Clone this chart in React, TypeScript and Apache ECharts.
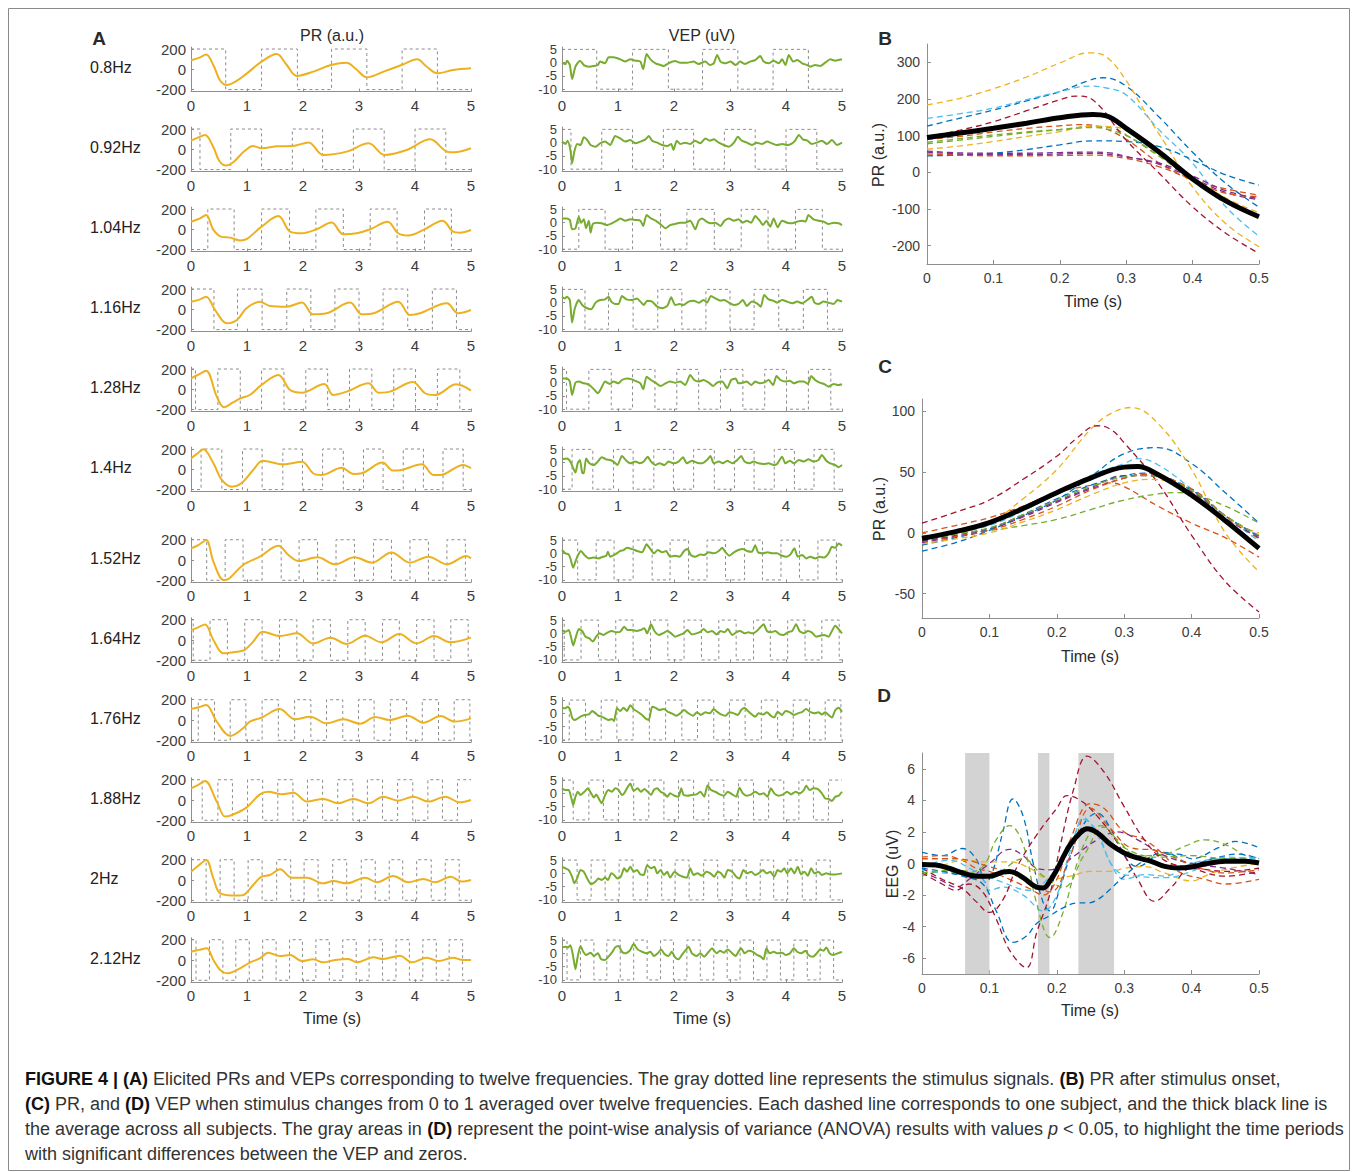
import React, { useEffect, useRef } from 'react';
import * as echarts from 'echarts';

const FONT = '"Liberation Sans", Arial, Helvetica, sans-serif';
const CAP_FONT = '"Liberation Sans", Arial, sans-serif';
const W = 1357;
const H = 1172;

// ---------- Panel A ----------
const FREQ_LABELS = ['0.8Hz', '0.92Hz', '1.04Hz', '1.16Hz', '1.28Hz', '1.4Hz', '1.52Hz', '1.64Hz', '1.76Hz', '1.88Hz', '2Hz', '2.12Hz'];
const STIM_START_HIGH = [1, 1, 0, 1, 1, 0, 1, 1, 0, 1, 1, 1];
const STIM_EDGES = [
  [0.62, 1.26, 1.9, 2.51, 3.14, 3.77, 4.4],
  [0.16, 0.71, 1.26, 1.81, 2.35, 2.9, 3.45, 4.0, 4.55],
  [0.3, 0.77, 1.26, 1.76, 2.23, 2.72, 3.2, 3.68, 4.17, 4.65],
  [0.41, 0.83, 1.27, 1.71, 2.14, 2.57, 3.0, 3.43, 3.87, 4.31, 4.74],
  [0.08, 0.48, 0.88, 1.26, 1.66, 2.05, 2.44, 2.83, 3.23, 3.62, 4.01, 4.4, 4.8],
  [0.18, 0.55, 0.92, 1.27, 1.64, 1.99, 2.35, 2.72, 3.08, 3.43, 3.79, 4.15, 4.5, 4.86],
  [0.28, 0.61, 0.93, 1.27, 1.61, 1.93, 2.26, 2.59, 2.92, 3.26, 3.58, 3.91, 4.24, 4.57, 4.9],
  [0.04, 0.34, 0.65, 0.96, 1.27, 1.58, 1.89, 2.18, 2.49, 2.8, 3.11, 3.42, 3.72, 4.03, 4.34, 4.64, 4.95],
  [0.13, 0.42, 0.7, 0.98, 1.27, 1.56, 1.85, 2.14, 2.42, 2.71, 2.99, 3.27, 3.56, 3.85, 4.13, 4.42, 4.7, 4.98],
  [0.2, 0.48, 0.74, 1.01, 1.28, 1.55, 1.82, 2.08, 2.35, 2.62, 2.89, 3.15, 3.42, 3.69, 3.96, 4.23, 4.49, 4.76],
  [0.27, 0.52, 0.77, 1.02, 1.27, 1.53, 1.78, 2.02, 2.27, 2.53, 2.78, 3.04, 3.29, 3.54, 3.78, 4.03, 4.29, 4.54, 4.79],
  [0.09, 0.33, 0.57, 0.8, 1.04, 1.28, 1.52, 1.76, 1.99, 2.23, 2.47, 2.71, 2.95, 3.18, 3.42, 3.66, 3.9, 4.14, 4.38, 4.61, 4.85],
];

const pr080 = [[0,90],[0.15,115],[0.27,145],[0.4,40],[0.52,-110],[0.64,-155],[0.8,-120],[1.0,-40],[1.26,75],[1.53,150],[1.7,50],[1.89,-66],[2.2,-20],[2.5,42],[2.78,65],[2.95,0],[3.14,-79],[3.45,-20],[3.76,42],[4.04,98],[4.2,30],[4.4,-40],[4.68,-7],[5,10]];
const pr092 = [[0,85],[0.12,115],[0.25,140],[0.4,20],[0.5,-110],[0.62,-160],[0.75,-130],[0.95,-20],[1.11,32],[1.26,10],[1.55,30],[1.81,32],[2.1,68],[2.36,-56],[2.78,-23],[3.17,59],[3.46,-56],[3.85,-7],[4.27,98],[4.55,-17],[4.7,-30],[5,10]];
const pr104 = [[0,75],[0.15,105],[0.27,140],[0.4,-5],[0.55,-75],[0.7,-82],[0.88,-110],[1.0,-95],[1.26,26],[1.56,130],[1.77,-23],[1.98,-39],[2.24,0],[2.51,66],[2.72,-49],[2.96,-39],[3.2,0],[3.51,75],[3.7,-39],[3.88,-62],[4.17,0],[4.49,85],[4.68,-23],[4.8,-33],[5,-7]];
const pr116 = [[0,75],[0.15,95],[0.27,125],[0.43,-7],[0.64,-138],[0.82,-105],[0.99,10],[1.23,75],[1.41,33],[1.71,26],[1.98,66],[2.18,-49],[2.42,-39],[2.84,66],[3.05,-49],[3.26,-39],[3.7,75],[3.91,-56],[4.09,-39],[4.57,59],[4.77,-39],[5,-7]];
const pr128 = [[0,108],[0.15,150],[0.27,184],[0.46,-72],[0.59,-177],[0.75,-130],[0.88,-89],[1.05,-56],[1.26,43],[1.56,141],[1.77,-7],[1.98,-33],[2.38,52],[2.54,-56],[2.78,-23],[3.17,59],[3.35,-33],[3.55,-23],[3.96,72],[4.18,-39],[4.36,-56],[4.74,49],[5,-13]];
const pr140 = [[0,108],[0.1,150],[0.22,197],[0.4,59],[0.55,-105],[0.73,-171],[0.9,-138],[1.11,-7],[1.28,85],[1.65,49],[1.98,75],[2.18,-39],[2.33,-56],[2.69,16],[2.9,-46],[3.05,-39],[3.42,66],[3.61,-13],[3.76,-7],[4.12,49],[4.33,-56],[4.45,-56],[4.86,43],[5,10]];
const pr152 = [[0,115],[0.14,150],[0.27,197],[0.4,-16],[0.58,-197],[0.67,-187],[0.93,-49],[1.23,33],[1.56,141],[1.74,49],[1.92,-10],[2.26,26],[2.57,-43],[2.92,26],[3.23,-26],[3.58,75],[3.91,-26],[4.24,33],[4.57,-43],[4.92,39],[5,16]];
const pr164 = [[0,98],[0.13,125],[0.25,154],[0.4,0],[0.58,-131],[0.82,-115],[0.96,-98],[1.11,-16],[1.28,82],[1.59,39],[1.89,66],[2.18,-33],[2.49,23],[2.78,-39],[3.11,43],[3.4,-23],[3.72,59],[4.03,-33],[4.34,39],[4.63,-23],[5,23]];
const pr176 = [[0,108],[0.14,125],[0.27,148],[0.46,-16],[0.7,-157],[0.93,-82],[1.05,-16],[1.26,23],[1.58,108],[1.86,7],[2.13,33],[2.42,-33],[2.72,7],[3.02,-36],[3.29,30],[3.55,0],[3.87,43],[4.15,-26],[4.46,39],[4.71,-16],[5,16]];
const pr188 = [[0,115],[0.13,150],[0.25,187],[0.46,-16],[0.61,-164],[0.73,-148],[0.99,-75],[1.23,56],[1.38,82],[1.62,56],[1.83,72],[2.07,-16],[2.36,10],[2.63,-33],[2.9,10],[3.17,-33],[3.43,33],[3.7,-7],[3.97,33],[4.24,-16],[4.54,33],[4.8,-23],[5,0]];
const pr200 = [[0,82],[0.13,140],[0.27,197],[0.4,16],[0.52,-131],[0.82,-154],[0.96,-141],[1.11,-49],[1.26,33],[1.41,49],[1.59,105],[1.8,23],[2.07,23],[2.36,-33],[2.54,-10],[2.78,-33],[3.11,23],[3.32,-23],[3.61,39],[3.88,-23],[4.15,10],[4.36,-23],[4.64,33],[4.83,-16],[5,0]];
const pr212 = [[0,82],[0.15,100],[0.28,115],[0.4,0],[0.52,-98],[0.64,-131],[0.82,-98],[1.05,-26],[1.23,16],[1.38,72],[1.59,39],[1.77,49],[1.98,-10],[2.18,7],[2.36,-23],[2.57,0],[2.81,10],[2.96,-23],[3.26,26],[3.43,10],[3.73,43],[3.94,-23],[4.21,23],[4.42,-10],[4.68,23],[4.86,0],[5,0]];

const vep080 = [[0,0],[0.06,-0.6],[0.09,0.75],[0.14,-0.9],[0.18,-6.2],[0.24,-1.5],[0.32,0.75],[0.39,-0.9],[0.48,-1.5],[0.57,-1.25],[0.64,-0.9],[0.68,0.4],[0.77,-0.25],[0.83,2],[0.92,2],[1.04,1.25],[1.13,0.4],[1.22,1.25],[1.31,0.75],[1.4,0.4],[1.45,-2.5],[1.51,3.25],[1.58,1.25],[1.67,-0.25],[1.76,-0.9],[1.82,-1.25],[1.9,-0.25],[2.02,0.6],[2.11,0],[2.23,0],[2.35,0.4],[2.44,-0.5],[2.56,0.4],[2.64,-0.9],[2.71,-0.25],[2.77,2.9],[2.83,0.4],[2.92,-0.25],[3.01,0.4],[3.1,-0.9],[3.18,0.4],[3.27,-0.5],[3.36,0.4],[3.45,1],[3.54,2.5],[3.6,0.4],[3.69,-0.25],[3.78,0.75],[3.87,-0.25],[3.93,1.25],[3.99,-0.9],[4.05,2.9],[4.13,0.4],[4.2,1],[4.29,-0.25],[4.38,-0.9],[4.43,-1.5],[4.52,-0.9],[4.61,-1.25],[4.7,0],[4.79,1.25],[4.88,0.75],[5,1.25]];
const vep092 = [[0,0.4],[0.06,-0.5],[0.1,0.75],[0.15,-2.75],[0.18,-7.75],[0.22,-3.4],[0.27,-0.5],[0.33,-0.9],[0.39,2],[0.45,1],[0.51,-0.9],[0.6,-1.5],[0.68,-0.25],[0.77,0.4],[0.86,-0.9],[0.95,2.5],[1.04,1.6],[1.13,0.4],[1.22,1],[1.31,-0.25],[1.4,0.4],[1.49,1.25],[1.55,2.5],[1.61,0.75],[1.7,0],[1.79,-0.9],[1.88,-1.25],[1.95,-0.5],[1.99,-2.75],[2.05,0.75],[2.11,-0.5],[2.2,0],[2.29,-0.5],[2.38,0.75],[2.47,-0.25],[2.56,1.6],[2.64,0.75],[2.71,1.25],[2.8,0],[2.89,-0.9],[2.98,-1.5],[3.07,0],[3.14,2.25],[3.21,0.75],[3.3,0],[3.39,-0.9],[3.48,0],[3.57,-0.5],[3.66,0.4],[3.75,-0.25],[3.84,-0.9],[3.93,-0.5],[4.02,-0.9],[4.11,-0.25],[4.17,1],[4.23,2.9],[4.3,1.25],[4.38,0.75],[4.46,-0.5],[4.55,0],[4.64,0.75],[4.73,-0.5],[4.82,1],[4.91,-0.9],[5,0]];
const vep104 = [[0,1.6],[0.09,1.6],[0.14,1],[0.18,-2.5],[0.24,-2.1],[0.3,2.25],[0.34,0],[0.39,1.25],[0.43,-2.1],[0.48,0.75],[0.51,-3.75],[0.55,-0.5],[0.63,0],[0.71,-0.25],[0.8,-0.9],[0.89,-0.25],[0.98,0.75],[1.04,1.6],[1.13,0.75],[1.22,1.25],[1.31,1],[1.4,0.75],[1.45,-1.25],[1.51,2.9],[1.59,1.6],[1.67,0.75],[1.74,-0.25],[1.85,-2.1],[1.93,-0.9],[2.02,-0.5],[2.11,0],[2.2,0],[2.29,0.75],[2.38,-2.5],[2.44,0.75],[2.5,1.6],[2.58,0.4],[2.66,-0.25],[2.74,0],[2.83,-1.25],[2.9,0.75],[2.98,1.6],[3.07,0.75],[3.15,1.25],[3.23,0],[3.3,0.75],[3.38,0],[3.45,2.5],[3.53,0.75],[3.59,-0.9],[3.65,0.75],[3.72,-1.5],[3.78,1.6],[3.85,-1.75],[3.93,0.75],[4.02,0],[4.11,-0.25],[4.2,0.4],[4.29,0.75],[4.35,0.4],[4.4,2.9],[4.49,1.25],[4.58,0.75],[4.67,0.4],[4.76,-0.5],[4.85,0],[4.94,-0.25],[5,-0.9]];
const vep116 = [[0,2.25],[0.05,1.6],[0.09,2.25],[0.14,1],[0.18,-7.5],[0.23,-2.1],[0.3,1],[0.36,-0.9],[0.45,-2.1],[0.52,-2.5],[0.6,0],[0.68,1],[0.77,1.25],[0.83,2.25],[0.88,0.4],[0.95,-0.5],[1.01,-0.5],[1.07,2.5],[1.15,1.25],[1.25,1],[1.34,1.6],[1.4,0.4],[1.46,-0.9],[1.52,0.75],[1.61,0.4],[1.7,-1.5],[1.79,-2.1],[1.88,-1.25],[1.95,2],[2.02,-0.9],[2.1,-0.5],[2.17,-0.9],[2.26,0.4],[2.35,0.75],[2.44,0],[2.53,1],[2.59,0],[2.66,2.5],[2.74,1.6],[2.83,0.75],[2.9,1],[2.98,0],[3.07,-0.9],[3.15,-0.5],[3.23,1],[3.3,-1.25],[3.39,0.4],[3.48,-0.25],[3.55,-1.5],[3.61,2.9],[3.69,1.25],[3.77,0.75],[3.84,0],[3.93,1],[4.02,0.4],[4.11,-0.25],[4.2,0.4],[4.29,-0.25],[4.38,1],[4.46,2.25],[4.51,0],[4.58,-0.5],[4.67,0.4],[4.76,0],[4.85,-0.5],[4.92,1],[5,0.4]];
const vep128 = [[0,1.6],[0.09,1.6],[0.14,0.4],[0.18,-4.6],[0.24,0],[0.3,0.4],[0.39,-0.25],[0.45,-0.5],[0.51,-1.25],[0.57,-2.5],[0.64,-4],[0.7,-2.1],[0.77,0.4],[0.85,-0.5],[0.92,0.4],[1.01,-0.25],[1.07,1],[1.16,1.6],[1.25,1.25],[1.34,0.4],[1.4,-0.25],[1.45,-2.5],[1.51,2.25],[1.59,1],[1.67,0],[1.76,-1.25],[1.85,-0.25],[1.93,0.4],[2.02,0],[2.11,0.4],[2.2,-0.9],[2.29,2.9],[2.36,1],[2.44,0.4],[2.53,1],[2.62,0],[2.7,-1.25],[2.77,0],[2.86,0.4],[2.95,-2.1],[3.02,1],[3.1,1.6],[3.15,-0.25],[3.23,0],[3.3,0.4],[3.38,-0.9],[3.45,0.4],[3.53,-0.25],[3.6,0],[3.69,1],[3.77,-0.9],[3.83,2.5],[3.9,1],[3.99,0.4],[4.07,0.75],[4.14,-0.25],[4.23,0.4],[4.32,0.4],[4.39,-0.5],[4.45,2.5],[4.52,1],[4.6,0],[4.68,-0.5],[4.76,-1.5],[4.85,-0.5],[4.94,-0.9],[5,-0.6]];
const vep140 = [[0,1.25],[0.09,1.6],[0.15,0.4],[0.2,-2.1],[0.24,-3.75],[0.28,-0.25],[0.32,1],[0.36,-3.75],[0.39,-4],[0.43,1.6],[0.49,-0.25],[0.57,-0.9],[0.64,0.4],[0.71,2],[0.79,1.25],[0.86,1],[0.92,0.4],[0.99,-0.9],[1.07,2.5],[1.15,0.75],[1.22,-0.25],[1.31,0.4],[1.39,-0.25],[1.46,0.4],[1.53,2.25],[1.59,0.4],[1.67,-0.9],[1.74,-0.25],[1.83,-0.9],[1.9,0.4],[1.99,-0.25],[2.08,0.4],[2.16,2],[2.23,-0.25],[2.32,0.75],[2.41,0],[2.5,-0.25],[2.59,1],[2.65,2.5],[2.71,-0.25],[2.8,0.4],[2.87,-0.25],[2.95,0.75],[3.04,-0.25],[3.13,1],[3.2,2.5],[3.26,0.4],[3.35,-0.25],[3.42,0.4],[3.51,-0.25],[3.6,-0.5],[3.69,-0.25],[3.78,-0.9],[3.84,-0.5],[3.93,2.25],[3.99,-0.25],[4.07,0.75],[4.14,-0.25],[4.23,1],[4.32,0.4],[4.4,1.25],[4.49,0.4],[4.58,1],[4.64,2.9],[4.72,0.75],[4.79,-0.25],[4.88,-0.9],[4.94,-1.75],[5,-0.9]];
const vep152 = [[0,1.25],[0.06,0],[0.12,-0.4],[0.15,-1.9],[0.2,-5.4],[0.24,-3.1],[0.28,-0.9],[0.34,0.9],[0.4,-0.6],[0.48,-1.9],[0.57,-1.6],[0.65,-1.9],[0.73,-1.25],[0.79,-0.9],[0.82,0.6],[0.86,-1.25],[0.95,-0.4],[1.04,0.9],[1.1,1.25],[1.16,2.1],[1.25,1.6],[1.34,0.9],[1.43,0.4],[1.51,3.4],[1.58,1.6],[1.64,0],[1.71,1.25],[1.79,0.4],[1.86,0.9],[1.93,-1.25],[2.02,-0.9],[2.1,-1.25],[2.18,0.9],[2.24,1.6],[2.3,-0.6],[2.38,-1.25],[2.47,-0.4],[2.54,-0.6],[2.62,0.4],[2.71,0],[2.8,0.9],[2.86,2.1],[2.92,0.4],[2.99,-0.9],[3.07,0.4],[3.15,1.25],[3.23,1.6],[3.3,0.9],[3.39,0.6],[3.45,3.1],[3.5,0.4],[3.59,0],[3.67,0.4],[3.75,0],[3.84,0],[3.93,-0.9],[4.01,-1.25],[4.08,-0.4],[4.15,1.9],[4.21,-1.25],[4.29,-0.6],[4.36,-1.9],[4.43,-1.25],[4.52,-1.9],[4.6,-1.25],[4.68,-1.6],[4.76,0],[4.82,2.5],[4.88,2.1],[4.94,3.75],[5,2.9]];
const vep164 = [[0,1.25],[0.06,0.6],[0.12,1.25],[0.16,-1.25],[0.2,-4.6],[0.24,-1.9],[0.3,1.6],[0.36,0.9],[0.42,-1.25],[0.49,-1.9],[0.55,-3.1],[0.61,-1.25],[0.67,0],[0.74,-0.6],[0.82,0.4],[0.89,0.9],[0.97,0.4],[1.04,0.6],[1.11,2.5],[1.17,1.25],[1.25,1.25],[1.33,0.9],[1.4,1.25],[1.47,1.9],[1.52,0],[1.59,3.4],[1.65,0.9],[1.73,-0.6],[1.8,0],[1.88,0.9],[1.95,0],[2.02,-1.25],[2.1,-0.6],[2.17,0],[2.24,1.25],[2.32,-0.4],[2.4,0],[2.47,0.6],[2.53,1.6],[2.6,0.4],[2.68,0.9],[2.76,-0.4],[2.83,0.9],[2.9,0.4],[2.96,1.6],[3.04,-0.6],[3.11,0.4],[3.18,0.9],[3.26,0],[3.33,0.4],[3.4,0],[3.48,0.9],[3.55,2.5],[3.6,3.4],[3.66,0.9],[3.73,0.4],[3.81,0.9],[3.89,-0.4],[3.96,-0.6],[4.03,0.4],[4.11,0.9],[4.18,3.4],[4.24,0.9],[4.32,0],[4.39,0.9],[4.46,0.4],[4.54,-1.25],[4.61,-0.9],[4.68,-0.6],[4.76,-1.25],[4.82,0.9],[4.88,2.9],[4.94,1.6],[5,0]];
const vep176 = [[0,2.1],[0.06,1.9],[0.1,2.5],[0.14,1.6],[0.18,-1.6],[0.22,-2.5],[0.27,-2.1],[0.33,-1.25],[0.4,-0.6],[0.48,-0.4],[0.54,0.9],[0.6,0],[0.65,-0.9],[0.71,-1.25],[0.77,-1.9],[0.83,-2.5],[0.89,-2.1],[0.93,-2.9],[0.98,1.9],[1.04,0.9],[1.1,2.1],[1.16,0.9],[1.22,3.1],[1.28,1.6],[1.35,0.6],[1.43,-0.6],[1.49,-1.9],[1.55,-2.5],[1.61,2.5],[1.67,2.1],[1.74,1.25],[1.82,1.6],[1.89,0.6],[1.96,0],[2.04,-0.9],[2.11,0],[2.18,1.25],[2.26,0],[2.34,-0.9],[2.41,0.4],[2.48,-0.6],[2.56,0.4],[2.64,0],[2.71,1.6],[2.77,0.6],[2.84,-0.4],[2.92,-0.9],[2.99,0.4],[3.07,0],[3.14,-0.6],[3.2,1.25],[3.26,2.1],[3.32,0.9],[3.39,-0.4],[3.45,-1.25],[3.51,0],[3.59,-0.4],[3.66,0.4],[3.73,-0.9],[3.79,-1.6],[3.85,0.6],[3.93,-0.6],[3.99,0.9],[4.07,0.4],[4.14,-0.6],[4.21,0],[4.29,0.6],[4.36,1.6],[4.43,0.6],[4.51,0],[4.58,0.4],[4.64,-0.4],[4.7,0.4],[4.76,-0.6],[4.82,-1.6],[4.88,1.25],[4.94,2.1],[5,0.6]];
const vep188 = [[0,1.9],[0.06,1.25],[0.12,1.25],[0.16,-1.25],[0.2,-4.4],[0.24,-1.25],[0.28,0.6],[0.33,-0.6],[0.4,0.6],[0.46,1.9],[0.52,0],[0.57,-1.6],[0.61,-0.4],[0.67,-2.5],[0.71,-3.75],[0.77,-0.6],[0.83,1.25],[0.89,0.6],[0.95,1.9],[1.01,1.25],[1.07,-0.6],[1.11,0],[1.16,1.9],[1.22,3.75],[1.28,0.9],[1.35,1.9],[1.41,0.6],[1.47,1.6],[1.53,0.6],[1.59,-0.6],[1.64,1.25],[1.7,1.9],[1.76,0.6],[1.82,0],[1.88,-1.25],[1.93,0],[2.01,-0.9],[2.08,-1.25],[2.13,1.9],[2.17,-0.6],[2.24,-0.9],[2.32,-0.6],[2.4,-0.4],[2.47,0.6],[2.54,-1.25],[2.6,3.1],[2.66,1.25],[2.74,0.6],[2.82,-0.4],[2.89,-0.9],[2.96,0.6],[3.04,-0.4],[3.11,-1.25],[3.17,2.1],[3.23,0],[3.3,-0.9],[3.38,-0.4],[3.45,0.6],[3.53,-0.4],[3.6,0],[3.67,-1.25],[3.73,1.9],[3.79,0],[3.87,-0.9],[3.95,-0.4],[4.02,0.6],[4.09,-0.4],[4.17,0.6],[4.24,0],[4.32,1.25],[4.36,2.9],[4.42,1.25],[4.49,1.9],[4.57,1.6],[4.64,0],[4.7,-1.9],[4.76,-2.1],[4.82,-2.9],[4.88,-1.25],[4.94,-0.9],[5,0.6]];
const vep200 = [[0,2.5],[0.06,1.9],[0.12,1.25],[0.18,-1.25],[0.22,-3.75],[0.27,-1.9],[0.33,1.25],[0.39,0.6],[0.45,-1.9],[0.52,-4.1],[0.6,-3.1],[0.65,-1.9],[0.71,-2.5],[0.77,-1.6],[0.82,-2.5],[0.88,0],[0.93,-0.6],[0.99,-1.9],[1.05,-1.25],[1.11,1.9],[1.16,0.6],[1.22,2.5],[1.28,0.6],[1.34,1.25],[1.4,-0.4],[1.46,-0.6],[1.52,3.1],[1.59,1.9],[1.65,2.5],[1.7,0],[1.76,1.25],[1.82,-0.6],[1.88,0.6],[1.93,-1.6],[2.01,0.6],[2.08,-0.6],[2.16,-1.25],[2.23,-1.6],[2.29,1.9],[2.35,-0.6],[2.42,0],[2.5,-0.9],[2.58,0.6],[2.65,0],[2.72,-1.25],[2.78,0.6],[2.84,0],[2.9,-1.6],[2.96,1.25],[3.04,0.6],[3.11,-1.25],[3.17,-1.9],[3.24,1.25],[3.3,0],[3.38,0.6],[3.45,-0.6],[3.51,0],[3.59,1.25],[3.65,0],[3.72,0.6],[3.79,-1.25],[3.85,1.25],[3.91,0.6],[3.97,1.9],[4.02,0],[4.09,1.9],[4.15,0],[4.21,2.5],[4.27,-0.4],[4.33,0.6],[4.39,-0.9],[4.45,1.9],[4.51,0],[4.58,0.6],[4.64,-0.6],[4.72,0],[4.79,-0.4],[4.88,-0.4],[5,0]];
const vep212 = [[0,2.25],[0.06,2.5],[0.11,2.25],[0.15,3.1],[0.2,-1.25],[0.24,-6],[0.28,-1.25],[0.33,2.75],[0.38,0.6],[0.43,-0.6],[0.51,0.25],[0.57,-1],[0.64,0],[0.7,-2.25],[0.77,-2.5],[0.83,-1.25],[0.89,0.25],[0.95,2.25],[1.01,2.75],[1.07,0.6],[1.13,0],[1.21,1],[1.28,3.5],[1.35,1.5],[1.43,0.6],[1.51,0],[1.58,0.6],[1.64,-1],[1.71,0],[1.77,1.5],[1.83,-0.25],[1.9,-1],[1.96,0.6],[2.02,-1.5],[2.08,-2.25],[2.14,-0.6],[2.2,1],[2.26,2.5],[2.32,0],[2.4,-1],[2.47,0],[2.54,-1.25],[2.62,0.6],[2.68,1.9],[2.76,0],[2.82,1],[2.89,0.25],[2.96,1.5],[3.04,0],[3.1,-1],[3.15,0.6],[3.2,1.9],[3.26,0],[3.33,1],[3.41,0.6],[3.48,-0.6],[3.55,-1.25],[3.6,-2.25],[3.65,1.9],[3.71,0],[3.78,0.6],[3.85,0],[3.93,0.25],[3.99,-0.6],[4.07,0],[4.14,1.9],[4.2,0.6],[4.27,0],[4.35,1],[4.4,-0.6],[4.48,-1.25],[4.55,0],[4.61,1.5],[4.67,1],[4.72,2.25],[4.78,0],[4.85,-0.6],[4.92,0],[5,0.5]];

const PR_ROWS = [pr080, pr092, pr104, pr116, pr128, pr140, pr152, pr164, pr176, pr188, pr200, pr212];
const VEP_ROWS = [vep080, vep092, vep104, vep116, vep128, vep140, vep152, vep164, vep176, vep188, vep200, vep212];
const PR_TICKS = [-200, 0, 200];
const VEP_TICKS = [-10, -5, 0, 5];
const PR_STIM_LEVELS = [200, -200];
const VEP_STIM_LEVELS = [5, -10];

// ---------- Panel B ----------
const bBlue1 = [[0,126],[0.05,148],[0.1,170],[0.15,195],[0.2,220],[0.24,248],[0.265,258],[0.3,235],[0.35,150],[0.4,55],[0.45,-30],[0.5,-95]];
const bOrange1 = [[0,90],[0.05,98],[0.1,110],[0.15,120],[0.2,127],[0.23,130],[0.26,124],[0.3,90],[0.35,25],[0.4,-20],[0.45,-45],[0.5,-62]];
const bYellow1 = [[0,184],[0.05,202],[0.1,228],[0.15,260],[0.2,298],[0.245,326],[0.27,315],[0.3,250],[0.33,160],[0.36,75],[0.4,-40],[0.45,-140],[0.5,-203]];
const bPurple1 = [[0,58],[0.05,53],[0.1,52],[0.15,52],[0.2,54],[0.25,55],[0.28,52],[0.3,43],[0.35,22],[0.4,-16],[0.45,-55],[0.5,-75]];
const bGreen1 = [[0,82],[0.05,92],[0.1,102],[0.15,110],[0.2,117],[0.25,125],[0.28,120],[0.3,102],[0.35,43],[0.4,-21],[0.45,-80],[0.5,-125]];
const bLightBlue = [[0,147],[0.05,160],[0.1,175],[0.15,198],[0.2,220],[0.245,235],[0.27,230],[0.3,211],[0.35,115],[0.4,25],[0.45,-94],[0.5,-174]];
const bDarkRed = [[0,97],[0.05,115],[0.1,138],[0.15,168],[0.2,198],[0.225,208],[0.25,197],[0.3,88],[0.35,-3],[0.4,-94],[0.45,-166],[0.5,-221]];
const bBlue2 = [[0,45],[0.05,47],[0.1,52],[0.15,62],[0.2,75],[0.25,86],[0.3,84],[0.35,70],[0.4,34],[0.45,-7],[0.5,-35]];
const bOrange2 = [[0,50],[0.05,47],[0.1,45],[0.15,45],[0.2,46],[0.25,47],[0.3,38],[0.35,15],[0.4,-21],[0.45,-57],[0.5,-66]];
const bYellow2 = [[0,63],[0.05,72],[0.1,84],[0.15,98],[0.2,111],[0.25,126],[0.28,124],[0.3,115],[0.35,52],[0.4,-12],[0.45,-70],[0.5,-110]];
const bPurple2 = [[0,55],[0.05,50],[0.1,48],[0.15,48],[0.2,50],[0.25,52],[0.3,42],[0.35,25],[0.4,-10],[0.45,-50],[0.5,-72]];
const bGreen2 = [[0,78],[0.05,88],[0.1,98],[0.15,108],[0.2,116],[0.25,122],[0.3,100],[0.35,45],[0.4,-15],[0.45,-75],[0.5,-120]];
const bMean = [[0,95],[0.05,107],[0.1,120],[0.15,134],[0.2,149],[0.25,158],[0.27,154],[0.3,120],[0.35,55],[0.4,-18],[0.45,-78],[0.5,-121]];

// ---------- Panel C ----------
const cDarkRed = [[0,8],[0.05,17],[0.1,27],[0.15,44],[0.2,63],[0.23,78],[0.26,88],[0.28,85],[0.3,74],[0.35,41],[0.4,-2],[0.45,-40],[0.5,-65]];
const cYellow1 = [[0,-9],[0.05,-1],[0.1,8],[0.15,28],[0.2,52],[0.25,85],[0.28,98],[0.31,103],[0.35,90],[0.4,52],[0.45,0],[0.5,-32]];
const cBlue1 = [[0,-15],[0.05,-8],[0.1,2],[0.15,14],[0.2,27],[0.25,46],[0.3,65],[0.35,70],[0.4,57],[0.45,33],[0.5,8]];
const cLightBlue = [[0,-5],[0.05,0],[0.1,6],[0.15,18],[0.2,33],[0.25,47],[0.3,57],[0.32,61],[0.35,56],[0.4,36],[0.45,14],[0.5,-7]];
const cOrange1 = [[0,0],[0.05,6],[0.1,12.5],[0.15,22],[0.2,33],[0.25,39],[0.28,41],[0.3,38],[0.35,22],[0.4,8],[0.45,-4],[0.5,-20]];
const cOrange2 = [[0,-6.5],[0.05,-3],[0.1,2],[0.15,11],[0.2,22],[0.25,35],[0.3,45],[0.33,48],[0.4,36],[0.45,14],[0.5,-5]];
const cYellow2 = [[0,-9],[0.05,-5],[0.1,0],[0.15,9],[0.2,19],[0.25,31],[0.3,41],[0.34,44],[0.4,33],[0.45,11],[0.5,0]];
const cPurple1 = [[0,-8],[0.05,-3],[0.1,3],[0.15,13],[0.2,25],[0.25,36],[0.3,45],[0.33,48],[0.4,36],[0.45,14],[0.5,-2.5]];
const cPurple2 = [[0,-7],[0.05,-2],[0.1,4],[0.15,14],[0.2,26],[0.25,37],[0.3,47],[0.33,47],[0.4,34],[0.45,12],[0.5,-4]];
const cGreen1 = [[0,-2.5],[0.05,0],[0.1,2],[0.15,6],[0.2,11],[0.25,19],[0.3,27],[0.35,32],[0.38,33],[0.4,32],[0.45,22],[0.5,8]];
const cGreen2 = [[0,-6],[0.05,-1],[0.1,4],[0.15,15],[0.2,27],[0.25,38],[0.3,46],[0.33,47],[0.4,35],[0.45,14],[0.5,-2]];
const cBlue2 = [[0,-10],[0.05,-4],[0.1,3],[0.15,15],[0.2,28],[0.25,39],[0.3,47],[0.33,49],[0.4,35],[0.45,14],[0.5,-3]];
const cMean = [[0,-4.6],[0.05,1],[0.1,8.4],[0.15,20],[0.2,33],[0.25,45],[0.3,54],[0.32,54.5],[0.35,48],[0.4,31],[0.45,10],[0.5,-12.8]];

// ---------- Panel D ----------
const dBlue1 = [[0,0.7],[0.03,0.5],[0.06,0.95],[0.08,0.3],[0.095,-1.2],[0.105,-0.5],[0.12,2.0],[0.135,4.1],[0.15,3.0],[0.165,0],[0.18,-2.5],[0.19,-3.0],[0.205,-1.5],[0.22,0.5],[0.24,2.5],[0.26,3.2],[0.28,2.2],[0.3,0.5],[0.32,-0.2],[0.35,0.5],[0.38,0.6],[0.4,0.3],[0.44,1.0],[0.465,1.4],[0.5,1.0]];
const dBlue2 = [[0,-0.3],[0.03,-0.5],[0.06,-0.8],[0.09,-1.3],[0.11,-3.0],[0.135,-5.0],[0.155,-4.6],[0.17,-3.8],[0.19,-3.3],[0.21,-2.8],[0.23,-2.5],[0.245,-2.5],[0.26,-2.3],[0.28,-1.6],[0.3,-0.8],[0.33,0.2],[0.36,0.7],[0.4,0.0],[0.44,0.4],[0.47,0.6],[0.5,0.3]];
const dRed1 = [[0,-0.3],[0.03,-1.0],[0.06,-1.6],[0.08,-2.4],[0.1,-3.1],[0.12,-2.3],[0.14,-0.3],[0.17,1.8],[0.2,3.5],[0.215,4.3],[0.235,4.0],[0.26,3.0],[0.29,1.3],[0.32,-1.0],[0.345,-2.4],[0.37,-1.5],[0.4,-0.3],[0.45,-0.5],[0.5,-0.3]];
const dRed2 = [[0,-0.6],[0.03,-1.3],[0.05,-1.7],[0.07,-1.3],[0.09,-1.8],[0.11,-3.5],[0.13,-5.5],[0.155,-6.6],[0.17,-4.4],[0.19,-1.9],[0.205,1.1],[0.225,4.7],[0.245,6.8],[0.27,5.8],[0.3,3.6],[0.33,1.5],[0.36,0.2],[0.4,-0.3],[0.45,-0.8],[0.5,-0.5]];
const dGreen1 = [[0,-0.8],[0.03,-0.5],[0.06,-0.6],[0.09,-0.2],[0.11,1.5],[0.13,2.4],[0.15,1.2],[0.17,-2.5],[0.19,-4.7],[0.21,-3.0],[0.23,0],[0.25,2.0],[0.265,2.4],[0.29,1.5],[0.32,0.5],[0.36,0.6],[0.39,1.1],[0.42,1.5],[0.45,1.2],[0.48,0.5],[0.5,0.2]];
const dGreen2 = [[0,-0.6],[0.05,-0.4],[0.1,-0.8],[0.15,0.3],[0.18,-0.8],[0.21,-1.5],[0.24,0.5],[0.27,2.3],[0.3,1.0],[0.35,0.4],[0.4,0.5],[0.45,0.3],[0.5,0.4]];
const dPurple = [[0,-0.5],[0.03,-1.1],[0.05,-1.5],[0.07,-1.0],[0.1,0],[0.13,0.9],[0.15,0.5],[0.17,-0.3],[0.19,-0.4],[0.21,0],[0.23,0.6],[0.26,1.5],[0.29,2.0],[0.32,1.5],[0.36,0.5],[0.4,0],[0.45,-0.3],[0.5,-0.7]];
const dYellow = [[0,-0.2],[0.03,-0.1],[0.06,0.2],[0.1,0.1],[0.13,0.1],[0.16,-0.3],[0.19,-1.0],[0.22,-0.8],[0.25,-0.5],[0.28,-0.5],[0.3,-0.3],[0.33,-0.2],[0.36,-0.6],[0.4,-1.1],[0.43,-0.6],[0.47,-0.2],[0.5,0]];
const dOrange1 = [[0,0.4],[0.03,0.5],[0.06,0.2],[0.08,-0.3],[0.1,-0.5],[0.13,-1.0],[0.16,-1.6],[0.18,-2.0],[0.2,-1.0],[0.22,1.5],[0.25,3.8],[0.27,3.5],[0.3,2.0],[0.33,1.5],[0.36,0.5],[0.38,-0.5],[0.42,-1.0],[0.45,-1.3],[0.5,-1.0]];
const dOrange2 = [[0,0.3],[0.05,0.3],[0.1,-0.2],[0.15,-0.9],[0.19,-1.8],[0.22,0.5],[0.25,3.5],[0.28,2.2],[0.31,1.0],[0.35,0.8],[0.4,-0.1],[0.45,-0.6],[0.5,-0.4]];
const dLightBlue1 = [[0,-0.4],[0.03,-0.6],[0.06,-0.7],[0.09,-1.0],[0.1,-1.7],[0.12,-1.5],[0.15,-2.0],[0.18,-3.0],[0.2,-2.0],[0.22,0.8],[0.24,2.8],[0.26,2.0],[0.28,0],[0.3,-1.0],[0.33,-0.7],[0.36,-0.8],[0.4,0],[0.45,0.3],[0.5,0.1]];
const dLightBlue2 = [[0,-0.2],[0.04,0.2],[0.08,-0.5],[0.12,-1.2],[0.16,-1.7],[0.19,-0.8],[0.22,1.0],[0.24,2.9],[0.26,1.8],[0.29,-0.5],[0.32,-0.8],[0.36,-0.9],[0.4,-0.5],[0.45,0.4],[0.5,0.3]];
const dMean = [[0,-0.07],[0.02,-0.1],[0.04,-0.3],[0.06,-0.6],[0.08,-0.8],[0.1,-0.8],[0.12,-0.55],[0.13,-0.5],[0.15,-0.9],[0.17,-1.5],[0.18,-1.55],[0.19,-1.1],[0.2,-0.4],[0.21,0.45],[0.22,1.2],[0.235,1.95],[0.245,2.2],[0.26,1.95],[0.28,1.2],[0.3,0.67],[0.32,0.35],[0.34,0.14],[0.36,-0.18],[0.38,-0.29],[0.4,-0.22],[0.42,-0.03],[0.45,0.14],[0.48,0.14],[0.5,0.03]];
const D_SIGNIFICANT = [[0.064, 0.1], [0.172, 0.189], [0.232, 0.285]];

const B_TICKS = [-200, -100, 0, 100, 200, 300];
const C_TICKS = [-50, 0, 50, 100];
const D_TICKS = [-6, -4, -2, 0, 2, 4, 6];

const C_BLUE = '#0072BD', C_ORANGE = '#D95319', C_YELLOW = '#EDB120', C_PURPLE = '#7E2F8E', C_GREEN = '#77AC30', C_LBLUE = '#4DBEEE', C_RED = '#A2142F';

const B_LINES = [[bBlue1, C_BLUE], [bOrange1, C_ORANGE], [bYellow1, C_YELLOW], [bPurple1, C_PURPLE], [bGreen1, C_GREEN], [bLightBlue, C_LBLUE], [bDarkRed, C_RED], [bBlue2, C_BLUE], [bOrange2, C_ORANGE], [bYellow2, C_YELLOW], [bPurple2, C_PURPLE], [bGreen2, C_GREEN]];
const C_LINES = [[cBlue1, C_BLUE], [cOrange1, C_ORANGE], [cYellow1, C_YELLOW], [cPurple1, C_PURPLE], [cGreen1, C_GREEN], [cLightBlue, C_LBLUE], [cDarkRed, C_RED], [cBlue2, C_BLUE], [cOrange2, C_ORANGE], [cYellow2, C_YELLOW], [cPurple2, C_PURPLE], [cGreen2, C_GREEN]];
const D_LINES = [[dBlue1, C_BLUE], [dOrange1, C_ORANGE], [dYellow, C_YELLOW], [dPurple, C_PURPLE], [dGreen1, C_GREEN], [dLightBlue1, C_LBLUE], [dRed1, C_RED], [dBlue2, C_BLUE], [dOrange2, C_ORANGE], [dRed2, C_RED], [dGreen2, C_GREEN], [dLightBlue2, C_LBLUE]];

function stimulus(startHigh: number, edges: number[], hi: number, lo: number) {
  let level = startHigh ? hi : lo;
  const pts: number[][] = [[0, level]];
  edges.forEach((e) => {
    pts.push([e, level]);
    level = level === hi ? lo : hi;
    pts.push([e, level]);
  });
  pts.push([5, level]);
  return pts;
}

const AXIS_COLOR = '#8e8e8e';
const LABEL_COLOR = '#3c3c3c';

function rowZero(k: number) {
  return k < 6 ? 69.3 + 80 * k : 560 + 80 * (k - 6);
}

function buildOption() {
  const grid: any[] = [];
  const xAxis: any[] = [];
  const yAxis: any[] = [];
  const series: any[] = [];
  const graphic: any[] = [];

  const smallX = (gi: number) => ({
    type: 'value', gridIndex: gi, min: 0, max: 5, interval: 1,
    axisLine: { show: true, onZero: false, lineStyle: { color: AXIS_COLOR, width: 1 } },
    axisTick: { show: true, inside: true, length: 3, lineStyle: { color: AXIS_COLOR } },
    axisLabel: { fontSize: 15, margin: 6, color: LABEL_COLOR, fontFamily: FONT },
    splitLine: { show: false },
  });
  const smallY = (gi: number, min: number, max: number, ticks: number[], size: number) => ({
    type: 'value', gridIndex: gi, min, max,
    axisLine: { show: true, onZero: false, lineStyle: { color: AXIS_COLOR, width: 1 } },
    axisTick: { show: true, inside: true, length: 3, customValues: ticks, lineStyle: { color: AXIS_COLOR } },
    axisLabel: { fontSize: size, margin: 5, color: LABEL_COLOR, fontFamily: FONT, customValues: ticks, hideOverlap: false, lineHeight: size },
    splitLine: { show: false },
  });

  for (let k = 0; k < 12; k++) {
    const z = rowZero(k);
    const top = z - 22.3;
    // PR
    const gp = grid.length;
    grid.push({ left: 191, top, width: 280, height: 44.6 });
    xAxis.push(smallX(gp));
    yAxis.push(smallY(gp, -220, 220, PR_TICKS, 15));
    series.push({
      type: 'line', xAxisIndex: gp, yAxisIndex: gp, symbol: 'none', silent: true, z: 2,
      data: stimulus(STIM_START_HIGH[k], STIM_EDGES[k], PR_STIM_LEVELS[0], PR_STIM_LEVELS[1]),
      lineStyle: { color: '#8c8c8c', width: 1, type: [3, 3] },
    });
    series.push({
      type: 'line', xAxisIndex: gp, yAxisIndex: gp, symbol: 'none', silent: true, z: 3, smooth: 0.35,
      data: PR_ROWS[k], lineStyle: { color: '#EDB120', width: 2 },
    });
    // VEP
    const gv = grid.length;
    grid.push({ left: 562, top, width: 280, height: 44.6 });
    xAxis.push(smallX(gv));
    yAxis.push(smallY(gv, -10.9, 5.9, VEP_TICKS, 13));
    series.push({
      type: 'line', xAxisIndex: gv, yAxisIndex: gv, symbol: 'none', silent: true, z: 2,
      data: stimulus(STIM_START_HIGH[k], STIM_EDGES[k], VEP_STIM_LEVELS[0], VEP_STIM_LEVELS[1]),
      lineStyle: { color: '#8c8c8c', width: 1, type: [3, 3] },
    });
    series.push({
      type: 'line', xAxisIndex: gv, yAxisIndex: gv, symbol: 'none', silent: true, z: 3, smooth: 0.2,
      data: VEP_ROWS[k], lineStyle: { color: '#77AC30', width: 2 },
    });
    graphic.push({
      type: 'text', x: 90, y: z - 2,
      style: { text: FREQ_LABELS[k], fontSize: 16, fontFamily: FONT, fill: '#222', align: 'left', verticalAlign: 'middle' },
    });
  }

  const bigX = (gi: number) => ({
    type: 'value', gridIndex: gi, min: 0, max: 0.5, interval: 0.1,
    axisLine: { show: true, onZero: false, lineStyle: { color: AXIS_COLOR, width: 1 } },
    axisTick: { show: true, inside: true, length: 4, lineStyle: { color: AXIS_COLOR } },
    axisLabel: { fontSize: 14, margin: 7, color: LABEL_COLOR, fontFamily: FONT },
    splitLine: { show: false },
  });
  const bigY = (gi: number, min: number, max: number, ticks: number[]) => ({
    type: 'value', gridIndex: gi, min, max,
    axisLine: { show: true, onZero: false, lineStyle: { color: AXIS_COLOR, width: 1 } },
    axisTick: { show: true, inside: true, length: 4, customValues: ticks, lineStyle: { color: AXIS_COLOR } },
    axisLabel: { fontSize: 14, margin: 7, color: LABEL_COLOR, fontFamily: FONT, customValues: ticks },
    splitLine: { show: false },
  });

  const addPanel = (box: any, min: number, max: number, ticks: number[], lines: any[], mean: number[][]) => {
    const gi = grid.length;
    grid.push(box);
    xAxis.push(bigX(gi));
    yAxis.push(bigY(gi, min, max, ticks));
    lines.forEach(([data, color]) => {
      series.push({
        type: 'line', xAxisIndex: gi, yAxisIndex: gi, symbol: 'none', silent: true, z: 3, smooth: 0.4,
        data, lineStyle: { color, width: 1.3, type: [6, 4] },
      });
    });
    series.push({
      type: 'line', xAxisIndex: gi, yAxisIndex: gi, symbol: 'none', silent: true, z: 4, smooth: 0.4,
      data: mean, lineStyle: { color: '#000', width: 5 },
    });
    return gi;
  };

  addPanel({ left: 927, top: 44, width: 332, height: 220 }, -250, 350, B_TICKS, B_LINES, bMean);
  addPanel({ left: 922, top: 399, width: 337, height: 219 }, -70, 110, C_TICKS, C_LINES, cMean);
  const gd = addPanel({ left: 922, top: 753, width: 337, height: 221 }, -7, 7, D_TICKS, D_LINES, dMean);
  series.push({
    type: 'line', xAxisIndex: gd, yAxisIndex: gd, symbol: 'none', silent: true, z: 1,
    data: [[0, 0]], lineStyle: { opacity: 0 },
    markArea: {
      silent: true,
      itemStyle: { color: '#d3d3d3', opacity: 1 },
      data: D_SIGNIFICANT.map(([a, b]) => [{ xAxis: a }, { xAxis: b }]),
    },
  });

  const txt = (text: string, x: number, y: number, size: number, extra: any = {}) => ({
    type: 'text', x, y, ...(extra.rotation ? { rotation: extra.rotation } : {}),
    style: { text, fontSize: size, fontFamily: FONT, fill: '#2a2a2a', align: 'center', verticalAlign: 'middle', fontWeight: extra.bold ? 'bold' : 'normal' },
  });

  graphic.push(txt('PR (a.u.)', 332, 35, 16));
  graphic.push(txt('VEP (uV)', 702, 35, 16));
  graphic.push(txt('Time (s)', 332, 1018, 16));
  graphic.push(txt('Time (s)', 702, 1018, 16));
  graphic.push(txt('Time (s)', 1093, 301, 16));
  graphic.push(txt('Time (s)', 1090, 656, 16));
  graphic.push(txt('Time (s)', 1090, 1010, 16));
  graphic.push(txt('PR (a.u.)', 878, 155, 16, { rotation: Math.PI / 2 }));
  graphic.push(txt('PR (a.u.)', 879, 509, 16, { rotation: Math.PI / 2 }));
  graphic.push(txt('EEG (uV)', 892, 864, 16, { rotation: Math.PI / 2 }));
  graphic.push(txt('A', 99, 38, 19, { bold: true }));
  graphic.push(txt('B', 885, 38, 19, { bold: true }));
  graphic.push(txt('C', 885, 366, 19, { bold: true }));
  graphic.push(txt('D', 884, 695, 19, { bold: true }));

  const rich = {
    b: { fontWeight: 'bold', fontFamily: CAP_FONT, fontSize: 18, fill: '#111' },
    i: { fontStyle: 'italic', fontFamily: CAP_FONT, fontSize: 18, fill: '#333' },
  };
  const CAPTION = [
    '{b|FIGURE 4 | (A)} Elicited PRs and VEPs corresponding to twelve frequencies. The gray dotted line represents the stimulus signals. {b|(B)} PR after stimulus onset,',
    '{b|(C)} PR, and {b|(D)} VEP when stimulus changes from 0 to 1 averaged over twelve frequencies. Each dashed line corresponds to one subject, and the thick black line is',
    'the average across all subjects. The gray areas in {b|(D)} represent the point-wise analysis of variance (ANOVA) results with values {i|p} < 0.05, to highlight the time periods',
    'with significant differences between the VEP and zeros.',
  ];
  CAPTION.forEach((line, i) => {
    graphic.push({
      type: 'text', x: 25, y: 1079 + 25 * i,
      style: { text: line, rich, fontFamily: CAP_FONT, fontSize: 18, fill: '#333', align: 'left', verticalAlign: 'middle' },
    });
  });

  graphic.push({
    type: 'rect', shape: { x: 8.5, y: 8.5, width: 1341, height: 1162 }, silent: true,
    style: { fill: 'none', stroke: '#8a8a8a', lineWidth: 1 },
  });

  return {
    animation: false,
    backgroundColor: '#fff',
    grid: grid.map((g) => ({ ...g, containLabel: false, outerBoundsMode: 'none' })),
    xAxis, yAxis, series, graphic,
  };
}

export default function App() {
  const ref = useRef<HTMLDivElement>(null);
  useEffect(() => {
    document.body.style.margin = '0';
    const chart = echarts.init(ref.current as HTMLDivElement, null, { renderer: 'svg', width: W, height: H });
    chart.setOption(buildOption() as any);
    return () => chart.dispose();
  }, []);
  return <div ref={ref} style={{ width: W, height: H }} />;
}
